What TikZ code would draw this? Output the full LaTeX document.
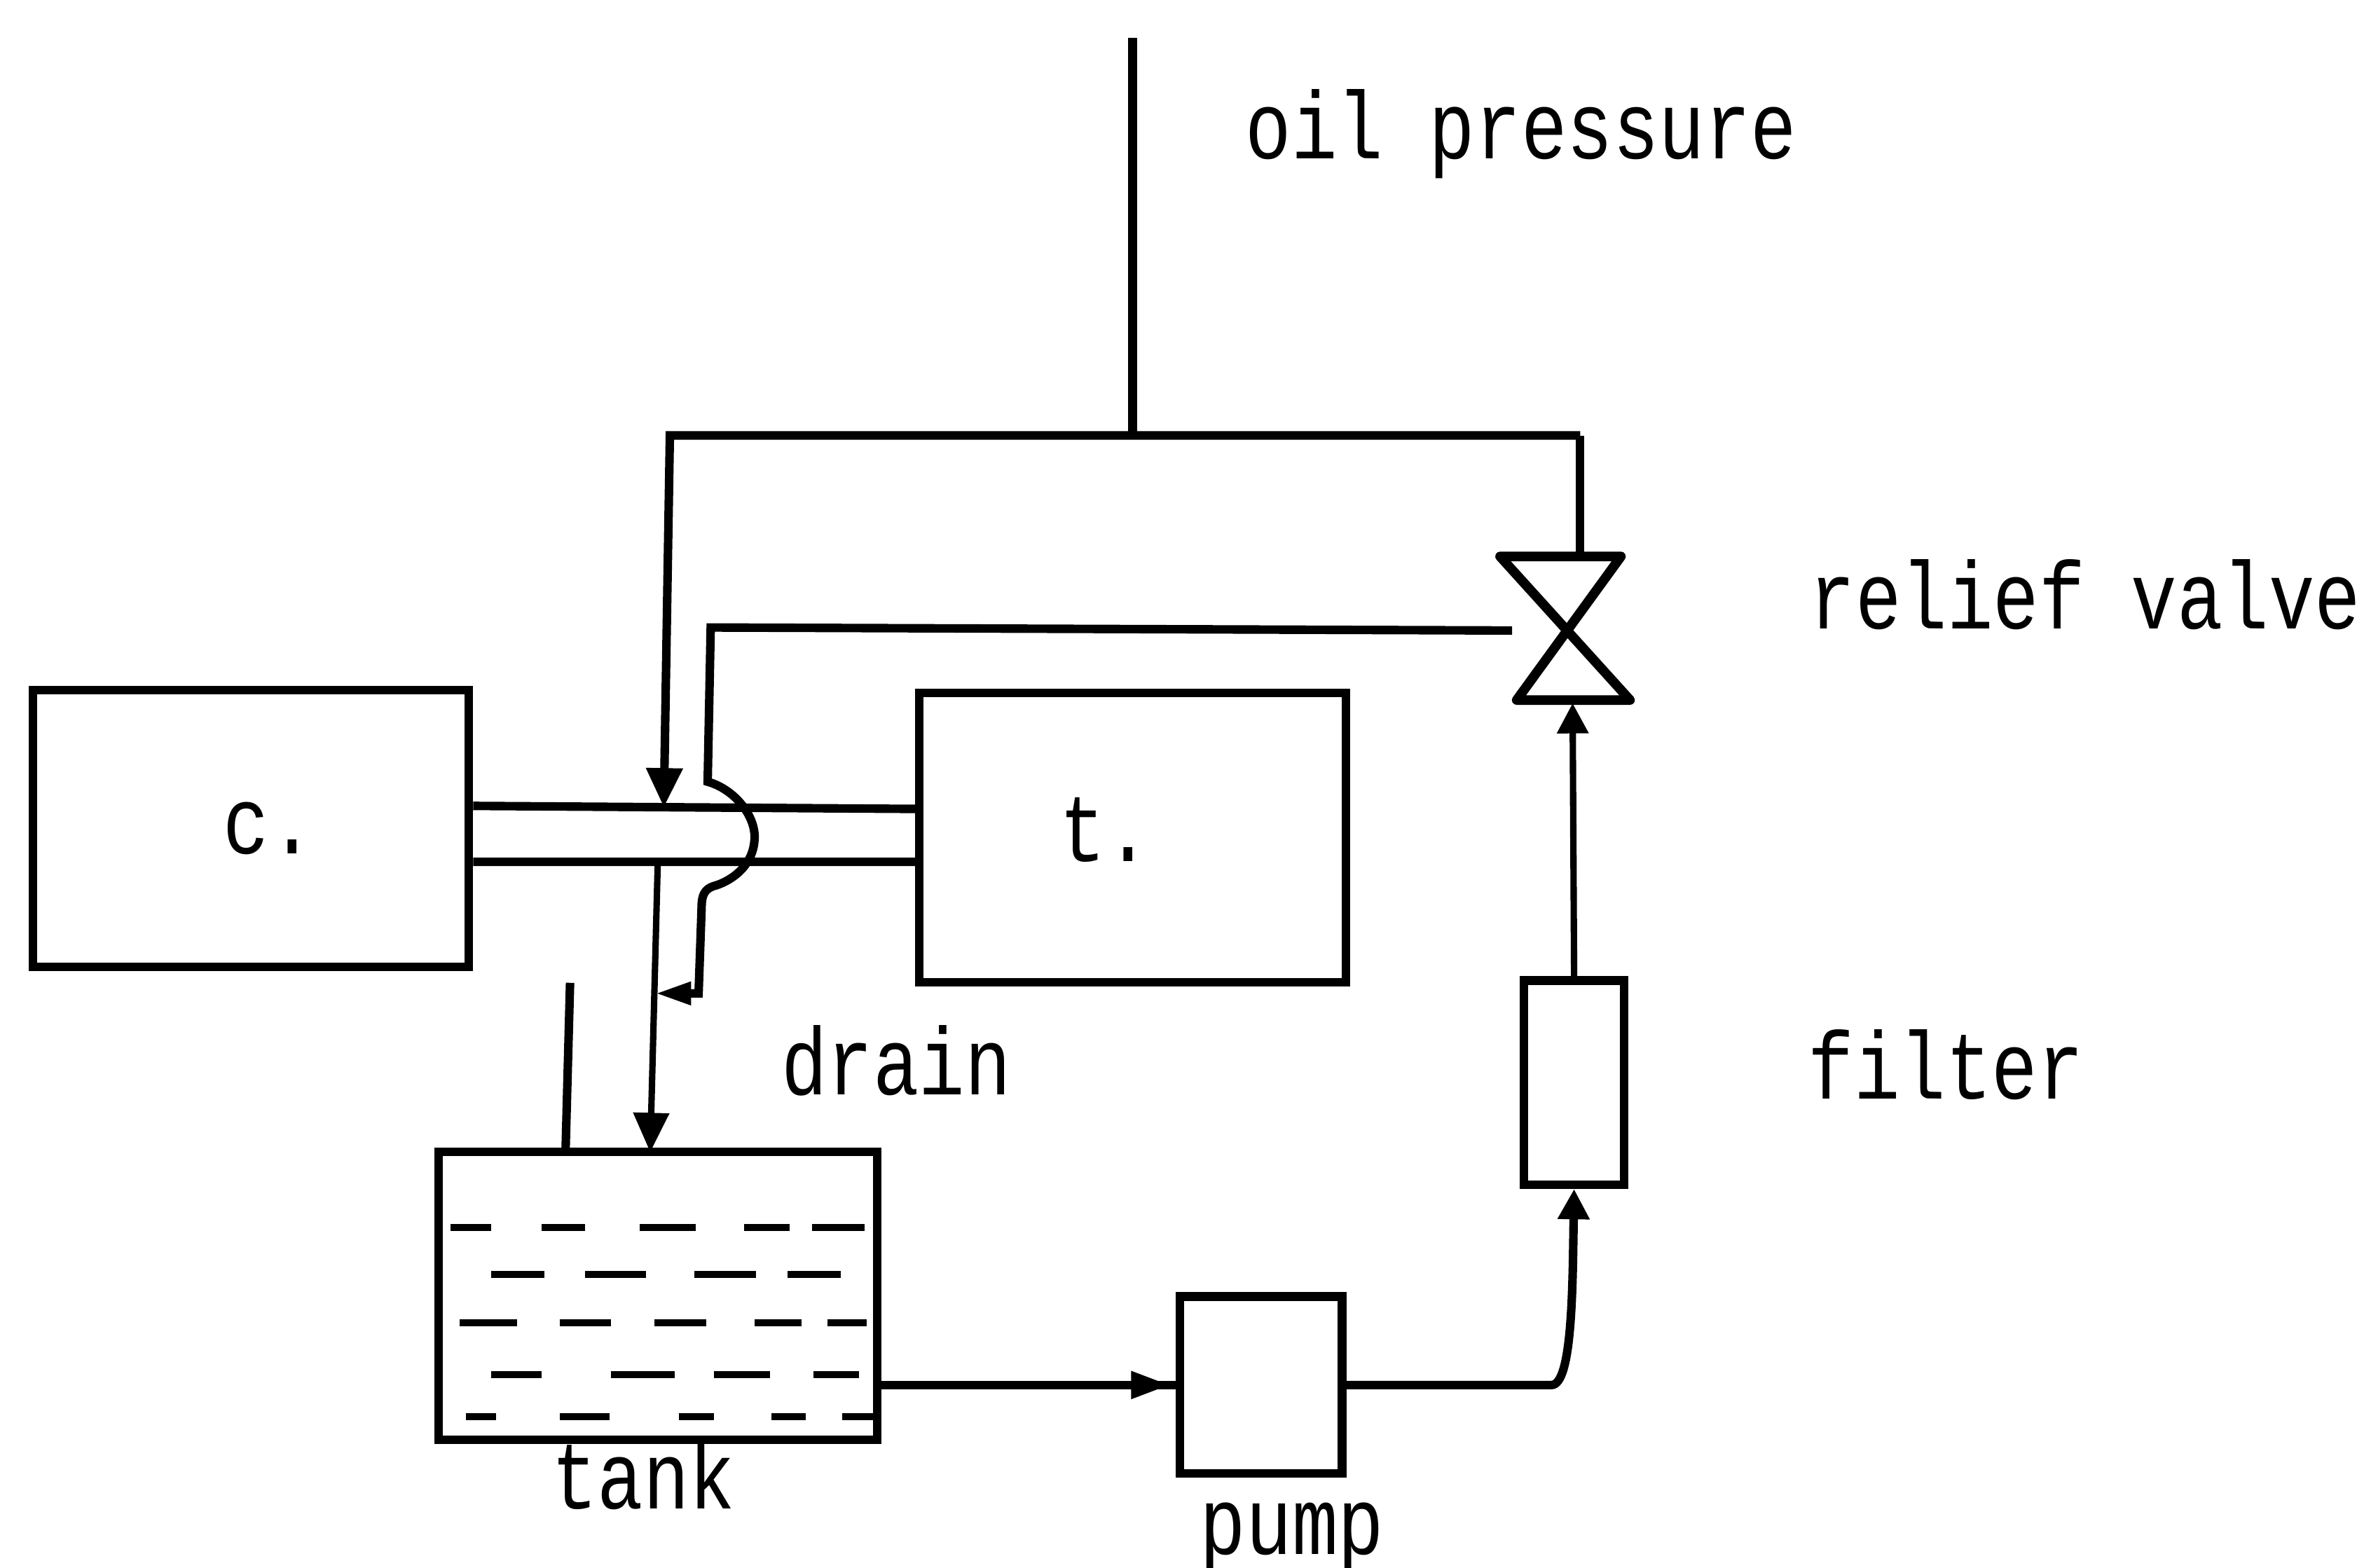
\documentclass[tikz,border=0pt]{standalone}
\usepackage{fontspec}
\newfontfamily\labelfont[FakeStretch=0.8]{Liberation Mono}
\usetikzlibrary{arrows.meta,positioning}
\tikzset{
  unitbox/.style={draw,line width=1.6pt,inner sep=0pt,font=\labelfont\fontsize{18}{22}\selectfont},
  tag/.style={inner sep=0pt,anchor=base west,font=\labelfont\fontsize{18}{22}\selectfont},
  main/.style={line width=1.6pt},
  flow/.style={line width=1.2pt},
  tip/.style={-{Triangle[length=0.26cm,width=0.23cm]}},
  level/.style={line width=1.3pt}
}

\begin{document}
\begin{tikzpicture}[x=0.01cm,y=-0.01cm]
  \useasboundingbox (0,0) rectangle (1568,1037);
  % units
  \node[unitbox,minimum width=2.88cm,minimum height=1.83cm] (comp) at (166,548) {\hspace*{0.24cm}c.};
  \node[unitbox,minimum width=2.82cm,minimum height=1.91cm] (turb) at (749,554) {\raisebox{0.11cm}{t.}\hspace*{0.36cm}};
  \node[unitbox,minimum width=2.90cm,minimum height=1.90cm] (tank) at (435,857) {};
  \node[unitbox,minimum width=1.07cm,minimum height=1.17cm] (pump) at (834,916) {};
  \node[unitbox,minimum width=0.66cm,minimum height=1.35cm] (filt) at (1041,716) {};
  % labels
  \node[tag] (oil) at (823,105) {oil pressure};
  \node[tag] (relief) at (1196,416) {relief valve};
  \node[tag] (drain) at (516,724) {drain};
  \node[tag] (filtlabel) at (1195,727) {filter};
  \node[tag] (tanklabel) at (364,998) {tank};
  \node[tag] (pumplabel) at (793,1028) {pump};
  % valve
  \coordinate (vtop) at (1045,368);
  \coordinate (vleft) at (1000,417);
  \coordinate (vbot) at (1040,465);
  \draw[main,line width=1.8pt,line join=round] (992,368) -- (1072,368) -- (1003,463) -- (1078,463) -- cycle;
  % rod between the units
  \draw[main] ([yshift=0.15cm]comp.east) -- ([yshift=0.19cm]turb.west);
  \draw[main] ([yshift=-0.22cm]comp.east) -- ([yshift=-0.16cm]turb.west);
  % oil feed
  \coordinate (oiltop) at (749,25);
  \coordinate (oiljoin) at (749,288);
  \coordinate (feedl) at (443,288);
  \coordinate (feedr) at (1045,288);
  \coordinate (feedend) at (439,534);
  \draw[main] (oiltop) -- (oiljoin);
  \draw[main,tip] (feedr) -- (feedl) -- (feedend);
  \draw[main] (feedr) -- (vtop);
  % drain
  \coordinate (drainout) at (435,570);
  \coordinate (drainend) at (430,762);
  \coordinate (back) at (433,657);
  \draw[flow,tip] (drainout) -- (drainend);
  \draw[main,-{Triangle[length=0.24cm,width=0.14cm]}] (vleft) -- (470,415) -- (468,517)
    .. controls (486,522) and (500,540) .. (499,555)
    .. controls (498,575) and (480,584) .. (472,586)
    .. controls (466,588) and (464,592) .. (464,600) -- (462,657) -- (back);
  % vent
  \coordinate (ventt) at (377,650);
  \draw[main] (ventt) -- (374,762);
  % oil circuit
  \coordinate (pumpin) at (774,916);
  \draw[main] (tank.east |- pump.west) -- (pump.west);
  \draw[main,-{Triangle[length=0.26cm,width=0.17cm]}] (tank.east |- pump.west) -- (pumpin);
  \draw[main,-{Triangle[length=0.2cm,width=0.2cm]}] (pump.east) -- (1026,916) .. controls (1040,916) and (1040,850) .. (filt.south);
  \draw[flow,-{Triangle[length=0.2cm,width=0.2cm]}] (filt.north) -- (vbot);
  % oil level
  \foreach \y/\list in {812/{298/325,358/387,423/460,492/522,537/572},
      843/{325/360,387/427,459/500,521/556},
      875/{304/342,370/404,433/467,499/530,547/573},
      909/{325/358,404/446,472/509,538/568},
      937/{308/328,370/403,449/472,510/533,557/578}}
    \foreach \a/\b in \list
      \draw[level] (\a,\y) -- (\b,\y);
\end{tikzpicture}
\end{document}
